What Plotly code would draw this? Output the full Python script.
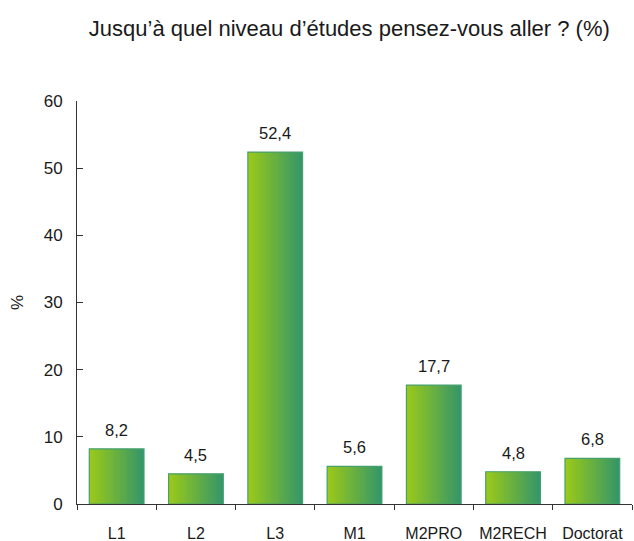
import plotly.graph_objects as go

categories = ["L1", "L2", "L3", "M1", "M2PRO", "M2RECH", "Doctorat"]
values = [8.2, 4.5, 52.4, 5.6, 17.7, 4.8, 6.8]
labels = ["8,2", "4,5", "52,4", "5,6", "17,7", "4,8", "6,8"]

title = "Jusqu’à quel niveau d’études pensez-vous aller ? (%)"
font = "Liberation Sans, Arial, sans-serif"

fig = go.Figure()

# horizontal gradient faked with thin overlaid bar slices
bar_w = 0.69
n = 30
step = bar_w / n
c0 = (155, 201, 26)
c1 = (52, 150, 106)
for i in range(n):
    t = i / (n - 1)
    col = "rgb(%d,%d,%d)" % tuple(round(a + (b - a) * t) for a, b in zip(c0, c1))
    off = -bar_w / 2 + i * step
    w = min(step * 1.6, bar_w / 2 - off)
    fig.add_trace(go.Bar(x=categories, y=values, width=w, offset=off,
                         marker=dict(color=col, line=dict(width=0)),
                         showlegend=False, hoverinfo='skip'))

# outline
fig.add_trace(go.Bar(x=categories, y=values, width=bar_w, offset=-bar_w / 2,
                     marker=dict(color='rgba(0,0,0,0)', line=dict(color='rgb(70,160,110)', width=1.2)),
                     showlegend=False))

for c, v, lab in zip(categories, values, labels):
    fig.add_annotation(x=c, y=v, text=lab, showarrow=False, yanchor='bottom', yshift=8,
                       font=dict(size=16.5, color='#1a1a1a', family=font))

fig.update_layout(
    width=634, height=541,
    margin=dict(l=77, r=2, t=101, b=37),
    barmode='overlay',
    plot_bgcolor='white', paper_bgcolor='white',
    font=dict(family=font, size=16, color='#1a1a1a'),
    title=dict(text=title, x=0.551, xanchor='center', yref='container', y=0.948, yanchor='middle',
               font=dict(size=22, family=font, color='#1a1a1a')),
    xaxis=dict(showline=True, linecolor='#333', linewidth=1, ticks='outside', tickson='boundaries',
               ticklen=5, tickcolor='#333', showgrid=False, ticklabelstandoff=15, tickangle=0,
               automargin=False, tickfont=dict(size=16)),
    yaxis=dict(range=[0, 60], tickvals=[0, 10, 20, 30, 40, 50, 60], showline=True, linecolor='#333',
               linewidth=1, ticks='inside', ticklen=6, tickcolor='#333', showgrid=False, zeroline=False,
               ticklabelstandoff=10, tickfont=dict(size=17), automargin=False,
               title=dict(text='%', standoff=15, font=dict(size=17))),
)

fig.write_html("out.html", config={'displayModeBar': False},
               post_script="document.body.style.margin='0';")
